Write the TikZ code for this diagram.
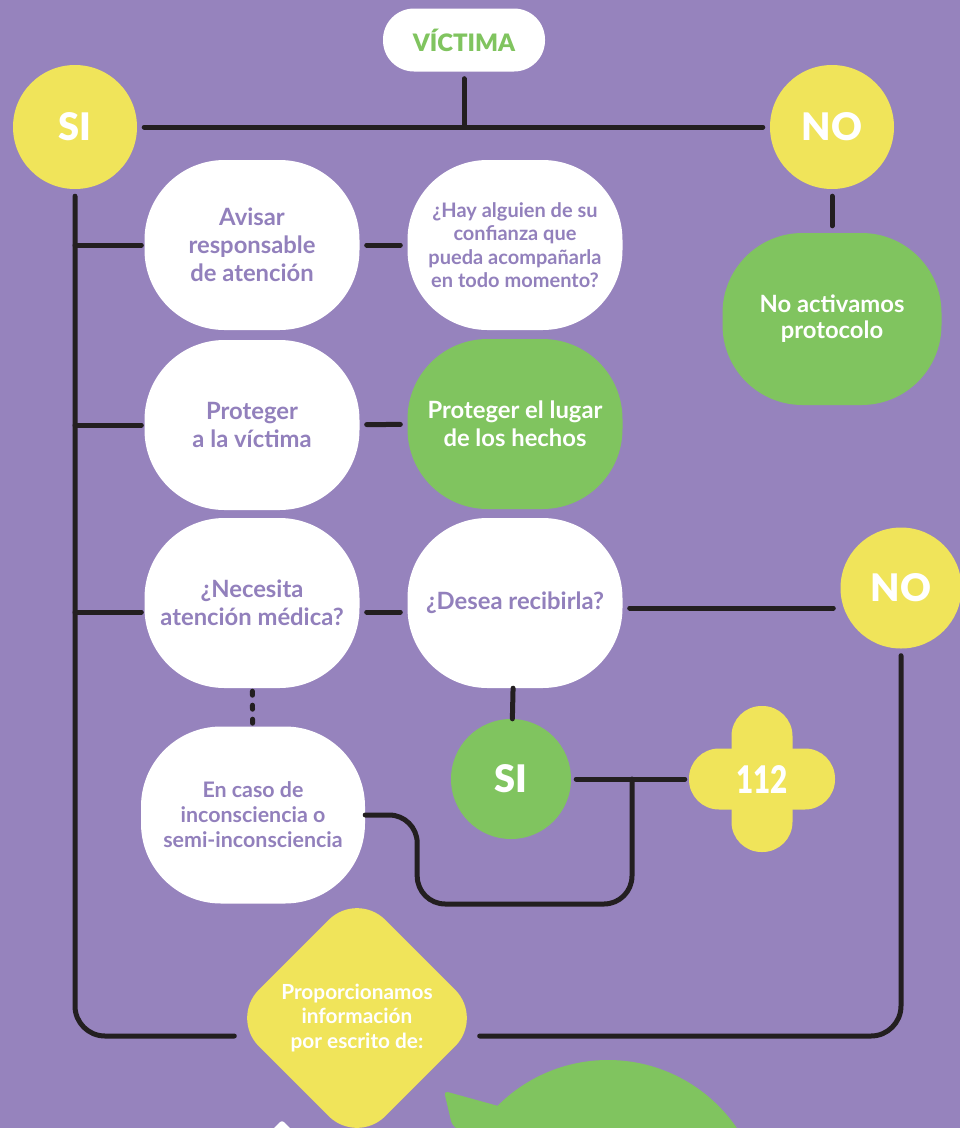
\documentclass[tikz,border=0pt]{standalone}
\usepackage{fontspec}
\setmainfont{Lato}
\newfontfamily\heavyfont{Lato Black}
\usetikzlibrary{shapes.geometric}

\definecolor{fondo}{HTML}{9683BD}
\definecolor{lila}{HTML}{9280BC}
\definecolor{amarillo}{HTML}{F0E45A}
\definecolor{verde}{HTML}{80C45F}
\definecolor{linea}{HTML}{231F20}

\begin{document}
\begin{tikzpicture}[x=1pt,y=-1pt,
  blob/.style={rectangle,rounded corners=80pt,minimum width=215pt,minimum height=170pt,inner sep=0pt,align=center,font=\bfseries\fontsize{23.8}{28}\selectfont},
  pregunta/.style={blob,fill=white,text=lila},
  accion/.style={blob,fill=verde,text=white},
  redondo/.style={circle,fill=amarillo,minimum size=124pt,inner sep=0pt,text=white,font=\heavyfont\fontsize{38}{38}\selectfont},
  link/.style={draw=linea,line width=5pt,line cap=round,shorten <=7pt,shorten >=7pt}]
	\useasboundingbox (0,0) rectangle (960,1128);
	\fill[fondo] (0,0) rectangle (960,1128);

	\node[fill=white,rounded corners=31pt,minimum width=162pt,minimum height=63pt,inner sep=0pt,text=verde,font=\heavyfont\fontsize{24}{24}\selectfont] (victima) at (464,40) {VÍCTIMA};
	\node[redondo] (si) at (75,127) {SI};
	\node[redondo] (no) at (832,127) {NO};

	\node[pregunta] (avisar) at (252,245) {Avisar\\responsable\\de atención};
	\node[pregunta,font=\bfseries\fontsize{20}{23.3}\selectfont] (confianza) at (515,245) {¿Hay alguien de su\\confianza que\\pueda acompañarla\\en todo momento?};
	\node[accion,minimum width=219pt,minimum height=172pt,font=\bfseries\fontsize{23.8}{26}\selectfont] (noactivo) at (832,319) {No activamos\\protocolo};
	\node[pregunta] (proteger) at (252,425) {Proteger\\a la víctima};
	\node[accion] (lugar) at (515,424) {Proteger el lugar\\de los hechos};
	\node[pregunta] (necesita) at (252,603) {¿Necesita\\atención médica?};
	\node[pregunta] (desea) at (515,603) {¿Desea recibirla?};
	\node[redondo,minimum size=121pt] (no2) at (901,588) {NO};
	\node[pregunta,minimum width=224pt,minimum height=177pt,font=\bfseries\fontsize{21.4}{25}\selectfont] (encaso) at (253,815) {En caso de\\inconsciencia o\\semi-inconsciencia};
	\node[redondo,fill=verde,minimum size=120pt] (sisi) at (511,779) {SI};

	\coordinate (c112) at (762,779);
	\fill[amarillo,rounded corners=30pt] ([xshift=-30.5pt,yshift=73pt]c112) rectangle ([xshift=30.5pt,yshift=-73pt]c112);
	\fill[amarillo,rounded corners=30pt] ([xshift=-73pt,yshift=30.5pt]c112) rectangle ([xshift=73pt,yshift=-30.5pt]c112);
	\node[circle,minimum size=146pt,inner sep=0pt,text=white,font=\heavyfont\fontsize{38}{38}\selectfont] (tel) at (c112) {\scalebox{0.78}[1]{112}};

	\fill[verde] (608,1216) circle (156);
	\fill[verde,rounded corners=4pt] (444,1091) -- (520,1112) -- (500,1160) -- (452,1125) -- cycle;
	\fill[white,rounded corners=3pt] (282,1120) -- (330,1168) -- (234,1168) -- cycle;

	\node[diamond,aspect=1,fill=amarillo,rounded corners=40pt,minimum width=253pt,minimum height=253pt,inner sep=0pt,align=center,text=white,font=\bfseries\fontsize{20.8}{24.5}\selectfont] (info) at (357,1018) {Proporcionamos\\información\\por escrito de:};
	\coordinate (dleft) at ([xshift=4pt,yshift=-18pt]info.west);
	\coordinate (dright) at ([xshift=-4pt,yshift=-18pt]info.east);
	\coordinate (j) at (632,779);

	\draw[link,shorten >=0pt] (victima) -- (victima |- si);
	\draw[link] (si) -- (no);
	\draw[link,rounded corners=30pt,shorten >=0pt] (si) -- (si |- dleft) -- (dleft);
	\draw[link,shorten <=0pt,shorten >=3pt] (avisar.west -| si) -- (avisar.west);
	\draw[link,shorten <=0pt,shorten >=3pt] (proteger.west -| si) -- (proteger.west);
	\draw[link,shorten <=0pt,shorten >=3pt] ([yshift=-9pt]necesita.west -| si) -- ([yshift=-9pt]necesita.west);
	\draw[link] (avisar) -- (confianza);
	\draw[link] (proteger) -- (lugar);
	\draw[link] ([yshift=-9pt]necesita.east) -- ([yshift=-9pt]desea.west);
	\draw[link] (no) -- (noactivo);
	\draw[link,dash pattern=on 4pt off 10pt,shorten <=3pt,shorten >=3pt] (necesita) -- (encaso);
	\draw[link,shorten <=0pt,shorten >=0pt] (desea) -- (sisi);
	\draw[link,shorten <=5pt,shorten >=4pt] (sisi) -- (tel);
	\draw[link,rounded corners=28pt,shorten <=0pt,shorten >=0pt] (encaso.east) -- ++(52,0) |- ([yshift=-125pt]j) -- (j);
	\draw[link] ([yshift=-5pt]desea.east) -- ([yshift=-5pt]desea.east -| no2.west);
	\draw[link,rounded corners=30pt,shorten >=0pt] (no2) -- (no2 |- dright) -- (dright);
\end{tikzpicture}
\end{document}
